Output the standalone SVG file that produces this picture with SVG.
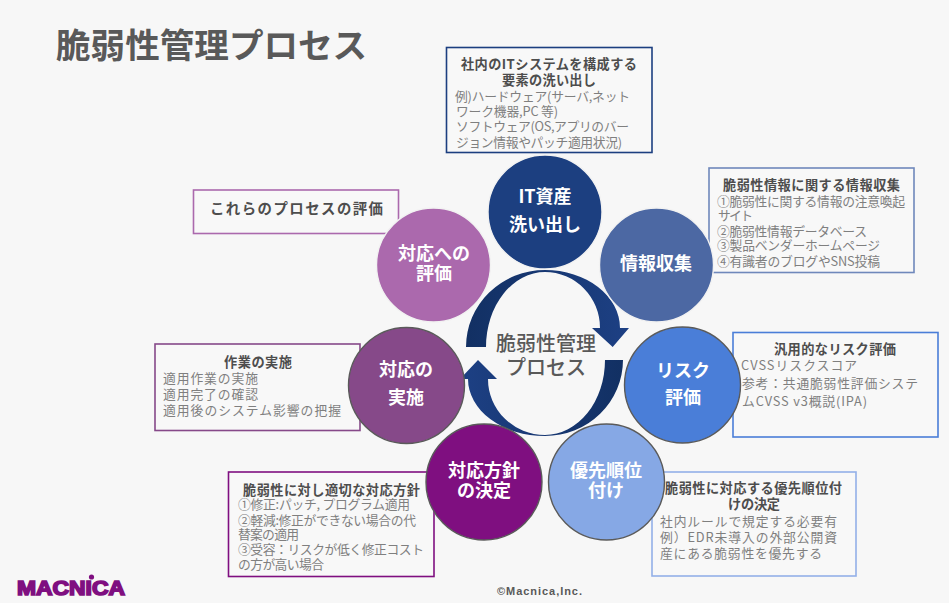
<svg xmlns="http://www.w3.org/2000/svg" width="949" height="603" viewBox="0 0 949 603">
  <style>
    text { font-family: "Noto Sans CJK JP", "Noto Sans", sans-serif; }
    .title { font-size: 34.6px; font-weight: 700; fill: #595959; }
    .head { font-size: 13.2px; font-weight: 700; fill: #4d4d4d; }
    .body { font-size: 12.8px; fill: #7f7f7f; }
    .label { font-size: 18px; font-weight: 700; fill: #ffffff; text-anchor: middle; }
    .hub { font-size: 20px; font-weight: 500; fill: #595959; text-anchor: middle; }
    .box { fill: #f8f8f8; stroke-width: 1.6; }
    .ring { stroke-width: 1.4; }
    .pale { stroke: #f2f2f2; }
    .dark { stroke: #5a5a5a; }
  </style>
  <defs>
    <linearGradient id="arcTop" x1="0" y1="0" x2="1" y2="0">
      <stop offset="0" stop-color="#123063"/>
      <stop offset="1" stop-color="#1d4084"/>
    </linearGradient>
    <linearGradient id="arcBottom" x1="1" y1="0" x2="0" y2="0">
      <stop offset="0" stop-color="#123063"/>
      <stop offset="1" stop-color="#1d4084"/>
    </linearGradient>
  </defs>
  <rect width="949" height="603" fill="#f7f7f7"/>
  <text class="title" x="56" y="58">脆弱性管理プロセス</text>

  <g id="connectors">
    <path fill="url(#arcTop)" d="M466 347 A79 77 0 0 1 545 270 A75 58 0 0 1 620 328 L629 328 L612.7 347 L592 328 L600 328 A55 56 0 0 0 545 272 A59 75 0 0 0 486 347 Z"/>
    <path fill="url(#arcBottom)" d="M623 360 A78 76 0 0 1 545 436 A77 57 0 0 1 468 379 L460 379 L478 360 L497 379 L488 379 A57 56 0 0 0 545 435 A60 75 0 0 0 605 360 Z"/>
  </g>

  <g id="hub">
    <text class="hub" x="546" y="351">脆弱性管理</text>
    <text class="hub" x="546" y="375">プロセス</text>
  </g>

  <g id="node-asset">
    <rect class="box" x="446.5" y="47.5" width="205.5" height="105" stroke="#1c3f80"/>
    <text class="head" x="461" y="69" textLength="176">社内のITシステムを構成する</text>
    <text class="head" x="502" y="85" textLength="94">要素の洗い出し</text>
    <text class="body" x="455" y="101" textLength="175">例)ハードウェア(サーバ,ネット</text>
    <text class="body" x="456" y="116" textLength="102">ワーク機器,PC 等)</text>
    <text class="body" x="456" y="131" textLength="173">ソフトウェア(OS,アプリのバー</text>
    <text class="body" x="456" y="147" textLength="166">ジョン情報やパッチ適用状況)</text>
    <circle class="ring pale" cx="545" cy="212" r="57" fill="#1c3f80"/>
    <text class="label" x="545" y="203">IT資産</text>
    <text class="label" x="545" y="231">洗い出し</text>
  </g>

  <g id="node-collect">
    <rect class="box" x="709" y="168" width="205" height="104.500" stroke="#6f88bb"/>
    <text class="head" x="723" y="190" textLength="177">脆弱性情報に関する情報収集</text>
    <text class="body" x="717" y="206" textLength="188">①脆弱性に関する情報の注意喚起</text>
    <text class="body" x="718" y="220" textLength="35">サイト</text>
    <text class="body" x="717" y="236" textLength="150">②脆弱性情報データベース</text>
    <text class="body" x="717" y="250" textLength="163">③製品ベンダーホームページ</text>
    <text class="body" x="717" y="266" textLength="163">④有識者のブログやSNS投稿</text>
    <circle class="ring pale" cx="656.500" cy="265" r="57" fill="#4c68a3"/>
    <text class="label" x="656" y="270">情報収集</text>
  </g>

  <g id="node-risk">
    <rect class="box" x="733" y="332.500" width="205" height="104.500" stroke="#4a7ed8"/>
    <text class="head" x="774" y="354" textLength="122">汎用的なリスク評価</text>
    <text class="body" x="741" y="370" textLength="116">CVSSリスクスコア</text>
    <text class="body" x="742" y="388" textLength="176">参考：共通脆弱性評価システ</text>
    <text class="body" x="742" y="406" textLength="125">ムCVSS v3概説(IPA)</text>
    <circle class="ring dark" cx="682.500" cy="385" r="58" fill="#4a7ed8"/>
    <text class="label" x="683" y="377">リスク</text>
    <text class="label" x="683" y="404">評価</text>
  </g>

  <g id="node-priority">
    <rect class="box" x="652" y="472" width="204" height="104" stroke="#93b0e8"/>
    <text class="head" x="665" y="493" textLength="177">脆弱性に対応する優先順位付</text>
    <text class="head" x="728" y="509" textLength="52">けの決定</text>
    <text class="body" x="660" y="526" textLength="177">社内ルールで規定する必要有</text>
    <text class="body" x="660" y="542" textLength="177">例）EDR未導入の外部公開資</text>
    <text class="body" x="660" y="558" textLength="162">産にある脆弱性を優先する</text>
    <circle class="ring dark" cx="606.500" cy="482" r="58" fill="#86a8e5"/>
    <text class="label" x="606" y="477">優先順位</text>
    <text class="label" x="606" y="497">付け</text>
  </g>

  <g id="node-policy">
    <rect class="box" x="228.500" y="472" width="205.500" height="104.500" stroke="#7f0f80"/>
    <text class="head" x="243" y="495" textLength="177">脆弱性に対し適切な対応方針</text>
    <text class="body" x="238" y="509" textLength="172">①修正:パッチ, プログラム適用</text>
    <text class="body" x="238" y="525" textLength="178">②軽減:修正ができない場合の代</text>
    <text class="body" x="238" y="539" textLength="61">替案の適用</text>
    <text class="body" x="238" y="554" textLength="186">③受容：リスクが低く修正コスト</text>
    <text class="body" x="238" y="569" textLength="86">の方が高い場合</text>
    <circle class="ring dark" cx="484" cy="482" r="58" fill="#7f0f80"/>
    <text class="label" x="484" y="477">対応方針</text>
    <text class="label" x="484" y="497">の決定</text>
  </g>

  <g id="node-execute">
    <rect class="box" x="155" y="344" width="205" height="86.500" stroke="#864989"/>
    <text class="head" x="224" y="366.500" textLength="68">作業の実施</text>
    <text class="body" x="163" y="382.500" textLength="95">適用作業の実施</text>
    <text class="body" x="163" y="399" textLength="95">適用完了の確認</text>
    <text class="body" x="163" y="415" textLength="178">適用後のシステム影響の把握</text>
    <circle class="ring dark" cx="406.500" cy="385.500" r="58" fill="#864989"/>
    <text class="label" x="406" y="376">対応の</text>
    <text class="label" x="406" y="404">実施</text>
  </g>

  <g id="node-review">
    <rect class="box" x="193.500" y="190" width="205" height="43.500" stroke="#ab69ad"/>
    <text class="head" style="font-size:14.400px" x="210" y="214" textLength="173">これらのプロセスの評価</text>
    <circle class="ring pale" cx="433.500" cy="265" r="57" fill="#ab69ad"/>
    <text class="label" x="434" y="260">対応への</text>
    <text class="label" x="434" y="280">評価</text>
  </g>

  <g id="footer">
    <text x="17" y="595" textLength="108" lengthAdjust="spacingAndGlyphs" style="font-family:'Liberation Sans',sans-serif;font-size:19.500px;font-weight:700;fill:#7f0f80;stroke:#7f0f80;stroke-width:1.6">MACNICA</text>
    <circle cx="91.500" cy="577" r="2.600" fill="#7f0f80"/>
    <text x="497" y="595" textLength="85" style="font-family:'Liberation Sans',sans-serif;font-size:11px;font-weight:700;fill:#595959">©Macnica,Inc.</text>
  </g>
</svg>
